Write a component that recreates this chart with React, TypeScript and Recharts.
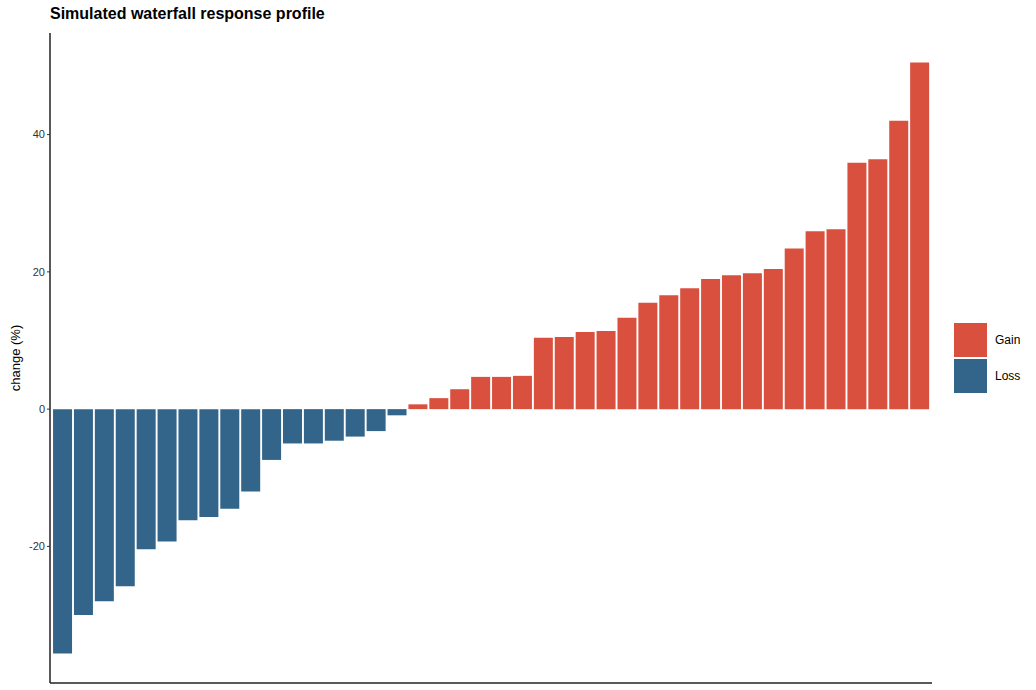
import React from "react";
import { BarChart, Bar, XAxis, YAxis, Cell } from "recharts";

// one bar per subject, sorted from largest loss to largest gain
const subjectIds = Array.from({ length: 42 }, (_, i) => `S${String(i + 1).padStart(2, "0")}`);

const changeValues = [
  -35.6, -30.0, -28.0, -25.8, -20.4, -19.3, -16.2, -15.7, -14.5, -12.0, -7.4, -5.0, -5.0, -4.6,
  -4.0, -3.2, -0.9, 0.7, 1.6, 2.9, 4.7, 4.7, 4.85, 10.4, 10.5, 11.25, 11.4, 13.3, 15.5, 16.6,
  17.6, 18.95, 19.5, 19.8, 20.4, 23.4, 25.9, 26.2, 35.9, 36.4, 42.0, 50.5,
];

const yTicks = [-20, 0, 20, 40];

const groups = [
  { name: "Gain", color: "#D9503F" },
  { name: "Loss", color: "#33658A" },
];

const FONT = "Arial, 'Liberation Sans', Helvetica, sans-serif";

const rows = subjectIds.map((id, i) => ({ id, change: changeValues[i] }));

const colorFor = (v: number) => (v >= 0 ? groups[0].color : groups[1].color);

// legend drawn from the group list, big square keys like ggplot
// (kept outside the chart so it doesn't eat into the plot area)
const GroupLegend = () => (
  <div
    style={{
      position: "absolute",
      left: 954,
      top: 323,
      fontFamily: FONT,
      fontSize: 12,
      color: "#000",
    }}
  >
    {groups.map((g) => (
      <div key={g.name} style={{ display: "flex", alignItems: "center", height: 34, marginBottom: 2 }}>
        <div style={{ width: 33, height: 34, background: g.color }} />
        <span style={{ marginLeft: 8 }}>{g.name}</span>
      </div>
    ))}
  </div>
);

const YLabel = (props: any) => {
  const vb = props.viewBox || { x: 0, y: 0, width: 0, height: 0 };
  const cx = vb.x + 15;
  const cy = vb.y + vb.height / 2;
  return (
    <text
      x={cx}
      y={cy}
      transform={`rotate(-90 ${cx} ${cy})`}
      textAnchor="middle"
      dominantBaseline="central"
      fontSize={13}
      fontFamily={FONT}
      fill="#000"
    >
      change (%)
    </text>
  );
};

export default function App() {
  return (
    <div style={{ position: "absolute", left: 0, top: 0, width: 1036, height: 690, background: "#fff" }}>
      <div
        style={{
          position: "absolute",
          left: 50,
          top: 5,
          fontFamily: FONT,
          fontSize: 16,
          fontWeight: "bold",
          lineHeight: "18px",
          color: "#000",
        }}
      >
        Simulated waterfall response profile
      </div>
      <BarChart
        width={1036}
        height={690}
        data={rows}
        margin={{ top: 33, right: 104, bottom: 5, left: 0 }}
        barCategoryGap="5%"
      >
        <XAxis
          dataKey="id"
          tick={false}
          tickLine={false}
          height={2}
          padding={{ left: 2, right: 2 }}
          axisLine={{ stroke: "#222", strokeWidth: 1.5 }}
        />
        <YAxis
          type="number"
          domain={[-39.9, 54.8]}
          allowDataOverflow
          ticks={yTicks}
          width={50}
          tickSize={3}
          tick={{ fontSize: 11, fill: "#333", fontFamily: FONT }}
          tickLine={{ stroke: "#333" }}
          axisLine={{ stroke: "#222", strokeWidth: 1.5 }}
          label={{ content: (p: any) => <YLabel {...p} /> }}
        />
        <Bar dataKey="change" isAnimationActive={false}>
          {rows.map((r) => (
            <Cell key={r.id} fill={colorFor(r.change)} />
          ))}
        </Bar>
      </BarChart>
      <GroupLegend />
    </div>
  );
}
